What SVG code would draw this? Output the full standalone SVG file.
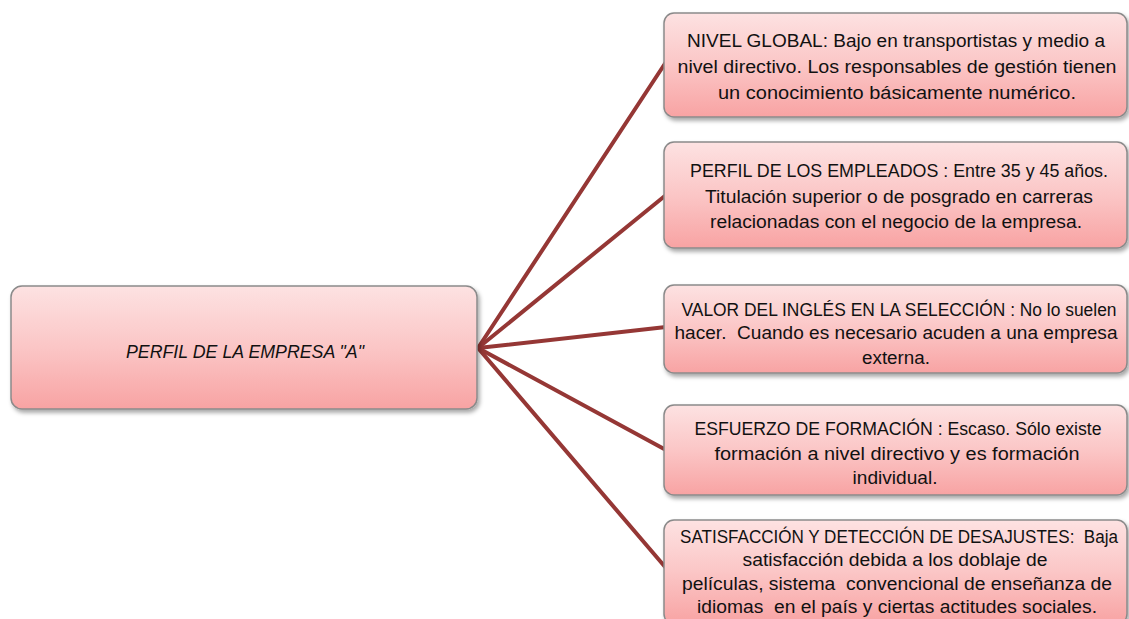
<svg xmlns="http://www.w3.org/2000/svg" width="1129" height="619" viewBox="0 0 1129 619">
<defs>
<linearGradient id="g" x1="0" y1="0" x2="0" y2="1">
<stop offset="0" stop-color="#fde2e2"/>
<stop offset="0.5" stop-color="#fbc6c6"/>
<stop offset="1" stop-color="#f8a3a3"/>
</linearGradient>
<filter id="sh" x="-5%" y="-10%" width="112%" height="130%">
<feDropShadow dx="2" dy="3" stdDeviation="2" flood-color="#000" flood-opacity="0.35"/>
</filter>
</defs>
<style>
.box{fill:url(#g);stroke:#8a8a8a;stroke-width:1.5;filter:url(#sh)}
.t{font-family:"Liberation Sans",Arial,sans-serif;font-size:17.5px;fill:#111;text-anchor:middle;white-space:pre}
.c{font-style:italic}
.ln{stroke:#953735;stroke-width:4;fill:none;stroke-linecap:round}
</style>
<rect width="1129" height="619" fill="#fff"/>
<g id="connectors">
<line class="ln" x1="478" y1="348" x2="666" y2="62"/>
<line class="ln" x1="478" y1="348" x2="666" y2="195"/>
<line class="ln" x1="478" y1="348" x2="666" y2="327"/>
<line class="ln" x1="478" y1="348" x2="666" y2="450"/>
<line class="ln" x1="478" y1="348" x2="666" y2="568"/>
</g>
<g id="center">
<rect class="box" x="11" y="286" width="466" height="123" rx="11"/>
<text class="t c" x="245" y="358" textLength="238" lengthAdjust="spacingAndGlyphs">PERFIL DE LA EMPRESA "A"</text>
</g>
<g id="n1">
<rect class="box" x="664" y="13" width="463" height="104" rx="10"/>
<text class="t" x="896" y="47" textLength="418" lengthAdjust="spacingAndGlyphs">NIVEL GLOBAL: Bajo en transportistas y medio a</text>
<text class="t" x="897" y="73" textLength="439" lengthAdjust="spacingAndGlyphs">nivel directivo. Los responsables de gestión tienen</text>
<text class="t" x="897" y="99" textLength="358" lengthAdjust="spacingAndGlyphs">un conocimiento básicamente numérico.</text>
</g>
<g id="n2">
<rect class="box" x="664" y="142" width="463" height="106" rx="10"/>
<text class="t" x="899" y="177" textLength="418" lengthAdjust="spacingAndGlyphs">PERFIL DE LOS EMPLEADOS : Entre 35 y 45 años.</text>
<text class="t" x="899" y="203" textLength="388" lengthAdjust="spacingAndGlyphs">Titulación superior o de posgrado en carreras</text>
<text class="t" x="896" y="228" textLength="372" lengthAdjust="spacingAndGlyphs">relacionadas con el negocio de la empresa.</text>
</g>
<g id="n3">
<rect class="box" x="664" y="285" width="463" height="88" rx="10"/>
<text class="t" x="899" y="316" textLength="435" lengthAdjust="spacingAndGlyphs">VALOR DEL INGLÉS EN LA SELECCIÓN : No lo suelen</text>
<text class="t" x="896" y="339" textLength="443" lengthAdjust="spacingAndGlyphs">hacer.  Cuando es necesario acuden a una empresa</text>
<text class="t" x="896" y="364" textLength="68" lengthAdjust="spacingAndGlyphs">externa.</text>
</g>
<g id="n4">
<rect class="box" x="664" y="405" width="463" height="90" rx="10"/>
<text class="t" x="898" y="435" textLength="407" lengthAdjust="spacingAndGlyphs">ESFUERZO DE FORMACIÓN : Escaso. Sólo existe</text>
<text class="t" x="897" y="460" textLength="365" lengthAdjust="spacingAndGlyphs">formación a nivel directivo y es formación</text>
<text class="t" x="895" y="484" textLength="85" lengthAdjust="spacingAndGlyphs">individual.</text>
</g>
<g id="n5">
<rect class="box" x="664" y="520" width="463" height="104" rx="10"/>
<text class="t" x="899" y="543" textLength="438" lengthAdjust="spacingAndGlyphs">SATISFACCIÓN Y DETECCIÓN DE DESAJUSTES:  Baja</text>
<text class="t" x="895" y="566" textLength="305" lengthAdjust="spacingAndGlyphs">satisfacción debida a los doblaje de</text>
<text class="t" x="897" y="590" textLength="430" lengthAdjust="spacingAndGlyphs">películas, sistema  convencional de enseñanza de</text>
<text class="t" x="897" y="613" textLength="400" lengthAdjust="spacingAndGlyphs">idiomas  en el país y ciertas actitudes sociales.</text>
</g>
</svg>
